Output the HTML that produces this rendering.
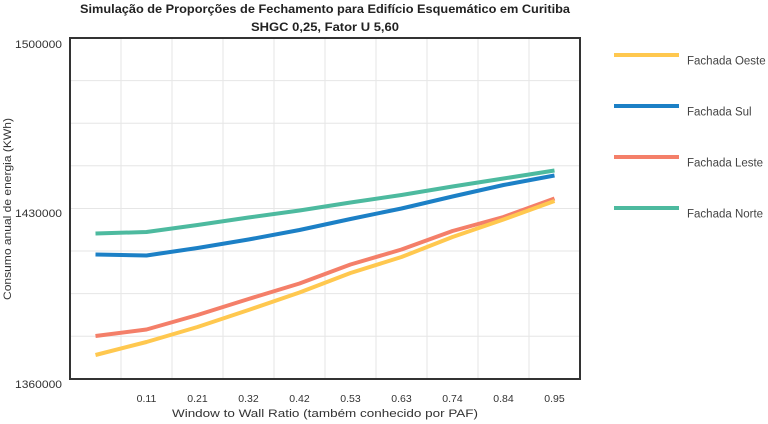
<!DOCTYPE html>
<html><head><meta charset="utf-8"><style>
html,body{margin:0;padding:0;background:#fff;}
svg{display:block;}
text{font-family:"Liberation Sans",sans-serif;}
</style></head><body>
<svg width="768" height="424" viewBox="0 0 768 424" xmlns="http://www.w3.org/2000/svg">
<rect width="768" height="424" fill="#fff"/>
<text x="325" y="13" text-anchor="middle" font-size="11.5" font-weight="bold" fill="#222" textLength="490" lengthAdjust="spacingAndGlyphs">Simulação de Proporções de Fechamento para Edifício Esquemático em Curitiba</text>
<text x="325" y="31" text-anchor="middle" font-size="11.5" font-weight="bold" fill="#222" textLength="148" lengthAdjust="spacingAndGlyphs">SHGC 0,25, Fator U 5,60</text>
<g stroke="#e6e6e6" stroke-width="1">
<line x1="121" y1="38" x2="121" y2="379"/><line x1="172" y1="38" x2="172" y2="379"/>
<line x1="223" y1="38" x2="223" y2="379"/><line x1="274" y1="38" x2="274" y2="379"/>
<line x1="325" y1="38" x2="325" y2="379"/><line x1="376" y1="38" x2="376" y2="379"/>
<line x1="427" y1="38" x2="427" y2="379"/><line x1="478" y1="38" x2="478" y2="379"/>
<line x1="529" y1="38" x2="529" y2="379"/>
<line x1="70" y1="80.6" x2="580" y2="80.6"/><line x1="70" y1="123.2" x2="580" y2="123.2"/>
<line x1="70" y1="165.8" x2="580" y2="165.8"/><line x1="70" y1="208.5" x2="580" y2="208.5"/>
<line x1="70" y1="251" x2="580" y2="251"/><line x1="70" y1="293.6" x2="580" y2="293.6"/>
<line x1="70" y1="336.2" x2="580" y2="336.2"/>
</g>
<rect x="70" y="38" width="510" height="341" fill="none" stroke="#333" stroke-width="2"/>
<g fill="none" stroke-width="4" stroke-linejoin="round">
<polyline stroke="#4DBA9F" points="95.5,233.5 146.5,232 197.5,225 248.5,217.5 299.5,210.5 350.5,202.5 401.5,195 452.5,186.5 503.5,178.5 554.5,170.5"/>
<polyline stroke="#1C80C6" points="95.5,254.5 146.5,255.5 197.5,248 248.5,239.5 299.5,230 350.5,219 401.5,208.5 452.5,196.5 503.5,185 554.5,175.5"/>
<polyline stroke="#F47F69" points="95.5,336 146.5,329.5 197.5,315 248.5,299 299.5,283.5 350.5,264.5 401.5,249.5 452.5,231 503.5,217 554.5,198.5"/>
<polyline stroke="#FFC84F" points="95.5,355 146.5,342 197.5,327 248.5,310 299.5,292.5 350.5,273 401.5,257 452.5,237 503.5,219.5 554.5,201"/>
</g>
<g font-size="11" fill="#333" text-anchor="end">
<text x="62" y="48" textLength="47" lengthAdjust="spacingAndGlyphs">1500000</text>
<text x="62" y="217" textLength="47" lengthAdjust="spacingAndGlyphs">1430000</text>
<text x="62" y="388" textLength="47" lengthAdjust="spacingAndGlyphs">1360000</text>
</g>
<g font-size="10.5" fill="#333" text-anchor="middle">
<text x="146.5" y="402">0.11</text><text x="197.5" y="402">0.21</text>
<text x="248.5" y="402">0.32</text><text x="299.5" y="402">0.42</text>
<text x="350.5" y="402">0.53</text><text x="401.5" y="402">0.63</text>
<text x="452.5" y="402">0.74</text><text x="503.5" y="402">0.84</text>
<text x="554.5" y="402">0.95</text>
</g>
<text x="325" y="417" text-anchor="middle" font-size="11" fill="#333" textLength="306" lengthAdjust="spacingAndGlyphs">Window to Wall Ratio (também conhecido por PAF)</text>
<text transform="translate(11,209) rotate(-90)" text-anchor="middle" font-size="11" fill="#333" textLength="182" lengthAdjust="spacingAndGlyphs">Consumo anual de energia (KWh)</text>
<g stroke-width="4">
<line x1="614" y1="55" x2="679" y2="55" stroke="#FFC84F"/>
<line x1="614" y1="106" x2="679" y2="106" stroke="#1C80C6"/>
<line x1="614" y1="157" x2="679" y2="157" stroke="#F47F69"/>
<line x1="614" y1="208" x2="679" y2="208" stroke="#4DBA9F"/>
</g>
<g font-size="11.5" fill="#444">
<text x="687" y="64.5">Fachada Oeste</text>
<text x="687" y="115.5">Fachada Sul</text>
<text x="687" y="166.5">Fachada Leste</text>
<text x="687" y="217.5">Fachada Norte</text>
</g>
</svg>
</body></html>
